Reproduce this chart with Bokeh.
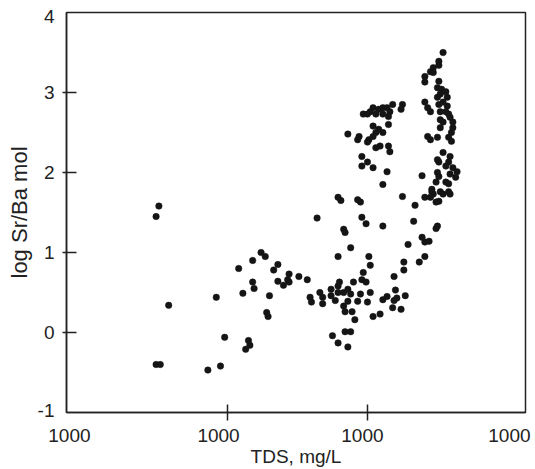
from bokeh.plotting import figure
from bokeh.models import FixedTicker, CustomJSTickFormatter, ColumnDataSource
from bokeh.embed import file_html
from bokeh.resources import INLINE

# log10 of TDS (mg/L) and log Sr/Ba (mol)
log_tds = [2.51, 2.49, 2.49, 2.52, 2.58, 2.86, 2.95, 2.92, 2.98, 3.08,
           3.18, 3.24, 3.27, 3.18, 3.19, 3.11, 3.15, 3.16, 3.13, 3.36,
           3.33, 3.44, 3.43, 3.51, 3.57, 3.36, 3.40, 3.44, 3.30, 3.28,
           3.29, 3.59, 3.60, 3.66, 3.68, 3.68, 3.74, 3.74, 3.77, 3.79,
           3.80, 3.79, 3.64, 3.75, 3.79, 3.84, 3.88, 3.86, 3.83, 3.86,
           3.88, 3.86, 3.83, 3.84, 3.89, 3.90, 3.93, 3.95, 3.96, 3.97,
           3.99, 4.00, 4.02, 4.04, 4.09, 4.11, 4.14, 4.18, 3.91, 3.79,
           4.02, 4.01, 3.88, 3.83, 3.84, 3.96, 3.99, 4.11, 3.81, 3.79,
           3.93, 3.95, 4.11, 4.25, 4.34, 4.19, 4.21, 4.27, 4.24, 4.20,
           4.19, 4.26, 4.26, 4.37, 4.41, 4.41, 4.44, 4.39, 4.29, 4.33,
           4.49, 4.50, 4.49, 4.41, 4.46, 4.49, 4.39,
           4.25, 4.24, 4.18, 4.16, 4.14, 4.11, 4.08, 4.04, 4.02, 4.00,
           3.97, 4.06, 4.11, 4.15, 4.15, 4.04, 4.08, 4.06, 4.04, 4.01,
           4.00, 4.11, 3.94, 3.93, 3.86, 4.06, 4.09, 4.15, 4.16, 3.96,
           4.00, 3.96, 4.04, 4.14,
           4.54, 4.51, 4.51, 4.47, 4.45, 4.47, 4.41, 4.41, 4.51, 4.50,
           4.53, 4.56, 4.52, 4.50, 4.57, 4.54, 4.51, 4.57, 4.41, 4.43,
           4.45, 4.52, 4.56, 4.58, 4.52, 4.54, 4.59, 4.61, 4.52, 4.61,
           4.60, 4.43, 4.45, 4.50, 4.58, 4.60, 4.54, 4.50, 4.51, 4.59,
           4.58, 4.56, 4.61, 4.64, 4.63, 4.50, 4.51, 4.59, 4.56, 4.58,
           4.46, 4.52, 4.58, 4.47, 4.54, 4.59, 4.45, 4.51]
log_sr_ba = [1.58, 1.45, -0.40, -0.40, 0.34, -0.47, -0.42, 0.44, -0.06, 0.80,
             0.90, 1.00, 0.95, 0.63, 0.55, 0.49, -0.10, -0.16, -0.21, 0.85,
             0.78, 0.73, 0.66, 0.70, 0.66, 0.64, 0.59, 0.63, 0.46, 0.25,
             0.20, 0.44, 0.38, 0.50, 0.44, 0.36, 0.54, 0.46, 0.40, 0.50,
             0.63, 0.95, 1.43, -0.04, -0.13, 0.01, 0.01, -0.18, 0.50, 0.54,
             0.48, 0.39, 0.33, 0.26, 0.26, 0.63, 0.39, 0.48, 0.66, 0.75,
             0.63, 0.38, 0.50, 0.20, 0.23, 0.41, 0.45, 0.31, 0.16, 0.58,
             0.84, 0.95, 1.06, 1.29, 1.25, 1.44, 1.36, 1.33, 1.65, 1.69,
             1.66, 1.63, 1.85, 1.70, 1.59, 0.40, 0.43, 0.46, 0.29, 0.53,
             0.70, 0.78, 0.88, 0.88, 0.95, 1.13, 1.14, 1.19, 1.10, 1.39,
             1.30, 1.33, 1.63, 1.69, 1.76, 1.88, 1.96,
             2.85, 2.79, 2.85, 2.76, 2.81, 2.81, 2.79, 2.81, 2.76, 2.73,
             2.73, 2.73, 2.73, 2.70, 2.60, 2.58, 2.54, 2.50, 2.45, 2.41,
             2.38, 2.50, 2.45, 2.41, 2.48, 2.31, 2.33, 2.33, 2.26, 2.20,
             2.13, 2.08, 2.06, 2.01,
             3.50, 3.39, 3.34, 3.31, 3.26, 3.25, 3.20, 3.13, 3.14, 3.06,
             3.04, 3.01, 2.98, 2.94, 2.94, 2.88, 2.85, 2.83, 2.88, 2.81,
             2.76, 2.76, 2.76, 2.73, 2.66, 2.63, 2.69, 2.63, 2.56, 2.56,
             2.50, 2.45, 2.41, 2.44, 2.44, 2.39, 2.25, 2.16, 2.13, 2.20,
             2.13, 2.08, 2.06, 2.01, 1.94, 2.00, 1.95, 1.98, 1.88, 1.86,
             1.79, 1.76, 1.76, 1.73, 1.73, 1.73, 1.69, 1.64]

x_tick_labels = ["1000", "1000", "1000", "1000"]
y_tick_labels = ["-1", "0", "1", "2", "3", "4"]
x_title = "TDS, mg/L"
y_title = "log Sr/Ba mol"

# layout: where the labels sit and where the visible tick marks sit
x_label_pos = [1.871, 2.936, 3.964, 5.014]
x_mark_pos = [3.0, 4.0]
y_label_pos = [-0.97, 0.0, 1.0, 2.0, 3.0, 3.95]
y_mark_pos = [0.0, 1.0, 2.0, 3.0]

FONT = "Liberation Sans"
INK = "#222222"

p = figure(width=535, height=469, output_backend="svg",
           toolbar_location=None,
           x_range=(1.85, 5.129), y_range=(-1, 4),
           min_border_left=66, min_border_right=10, min_border_top=12,
           min_border_bottom=56, background_fill_color="white",
           border_fill_color="white")
p.grid.visible = False
p.outline_line_color = INK
p.outline_line_width = 1.5

src = ColumnDataSource(dict(x=log_tds, y=log_sr_ba))
p.scatter("x", "y", source=src, size=6.5, fill_color="#151515",
          line_color="#151515", line_width=0.5)

xa = p.xaxis[0]
xa.ticker = FixedTicker(ticks=x_label_pos, minor_ticks=x_mark_pos)
xa.formatter = CustomJSTickFormatter(args=dict(labels=x_tick_labels),
                                     code="return labels[index];")
xa.axis_label = x_title
xa.major_label_standoff = 8
xa.axis_label_standoff = 1
xa.axis_label_text_font_size = "19px"
xa.minor_tick_in = 8
xa.minor_tick_out = 8

ya = p.yaxis[0]
ya.ticker = FixedTicker(ticks=y_label_pos, minor_ticks=y_mark_pos)
ya.formatter = CustomJSTickFormatter(args=dict(labels=y_tick_labels),
                                     code="return labels[index];")
ya.axis_label = y_title
ya.major_label_standoff = 8
ya.axis_label_standoff = 3
ya.axis_label_text_font_size = "22px"
ya.minor_tick_in = 10
ya.minor_tick_out = 4

for ax in (xa, ya):
    ax.major_tick_line_color = None
    ax.major_tick_in = 0
    ax.major_tick_out = 0
    ax.minor_tick_line_color = INK
    ax.minor_tick_line_width = 1.5
    ax.axis_line_color = INK
    ax.axis_line_width = 1.5
    ax.major_label_text_font = FONT
    ax.major_label_text_font_size = "19px"
    ax.major_label_text_color = INK
    ax.axis_label_text_font = FONT
    ax.axis_label_text_font_style = "normal"
    ax.axis_label_text_color = INK

open("out.html", "w").write(file_html(p, INLINE))
